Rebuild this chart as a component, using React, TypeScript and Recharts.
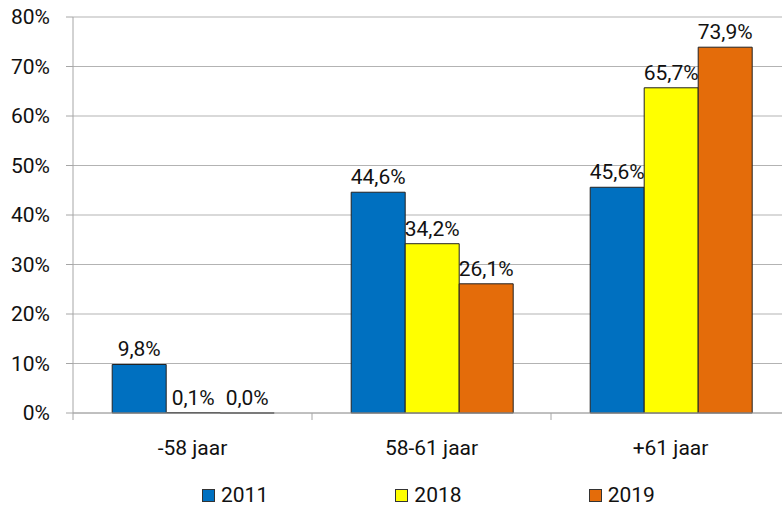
import { BarChart, Bar, XAxis, YAxis, CartesianGrid, Legend, LabelList } from "recharts";

const categories = ["-58 jaar", "58-61 jaar", "+61 jaar"];
const s2011 = [9.8, 44.6, 45.6];
const s2018 = [0.1, 34.2, 65.7];
const s2019 = [0.0, 26.1, 73.9];
const yTicks = [0, 10, 20, 30, 40, 50, 60, 70, 80];

const series = [
    { key: "y2011", name: "2011", color: "#0070C0" },
    { key: "y2018", name: "2018", color: "#FFFF00" },
    { key: "y2019", name: "2019", color: "#E46C0A" },
];

const data = categories.map((c, i) => ({
    cat: c,
    y2011: s2011[i],
    y2018: s2018[i],
    y2019: s2019[i],
}));

const FONT = "Roboto, 'Noto Sans', sans-serif";
const fmt = (v: any) => `${Number(v).toFixed(1).replace(".", ",")}%`;

// category label plus a tick mark on the left edge of each band (and right edge of the last)
function CatTick(props: any) {
    const { x, y, payload, index, width } = props;
    const half = width / categories.length / 2;
    return (
        <g>
            <line x1={x - half} x2={x - half} y1={y - 27} y2={y - 20} stroke="#a6a6a6" />
            {index === categories.length - 1 && (
                <line x1={x + half} x2={x + half} y1={y - 27} y2={y - 20} stroke="#a6a6a6" />
            )}
            <text x={x} y={y} dy="0.71em" textAnchor="middle" fill="#111" fontSize={21} fontFamily={FONT}>
                {payload.value}
            </text>
        </g>
    );
}

function renderLegend() {
    return (
        <div style={{ display: "flex", paddingLeft: 202, fontFamily: FONT, fontSize: 21, color: "#111", lineHeight: "25px" }}>
            {series.map((s) => (
                <div key={s.key} style={{ width: 195, display: "flex", alignItems: "center" }}>
                    <span style={{ width: 11, height: 11, background: s.color, border: "1px solid #333", marginRight: 6 }} />
                    <span>{s.name}</span>
                </div>
            ))}
        </div>
    );
}

export default function App() {
    return (
        <div style={{ position: "absolute", left: 0, top: 0, width: 782, height: 514, overflow: "hidden", background: "#fff" }}>
            <BarChart
                width={790}
                height={514}
                data={data}
                margin={{ top: 17, right: 0, left: 0, bottom: 16 }}
                barGap={0}
                barCategoryGap="16.4%"
            >
                <CartesianGrid vertical={false} stroke="#b3b3b3" />
                <XAxis
                    dataKey="cat"
                    axisLine={{ stroke: "#a6a6a6" }}
                    tickLine={false}
                    tickSize={7}
                    tickMargin={20}
                    tick={<CatTick />}
                    interval={0}
                    height={60}
                />
                <YAxis
                    domain={[0, 80]}
                    ticks={yTicks}
                    tickFormatter={(v: number) => `${v}%`}
                    width={73}
                    axisLine={{ stroke: "#a6a6a6" }}
                    tickLine={{ stroke: "#a6a6a6" }}
                    tickSize={7}
                    tickMargin={16}
                    tick={{ fill: "#111", fontSize: 21, fontFamily: FONT }}
                    interval={0}
                />
                <Legend
                    content={renderLegend}
                    wrapperStyle={{ position: "absolute", top: 483, left: 0, width: 782 }}
                />
                {series.map((s) => (
                    <Bar
                        key={s.key}
                        dataKey={s.key}
                        name={s.name}
                        fill={s.color}
                        stroke="#222"
                        strokeWidth={1}
                        minPointSize={0.01}
                        isAnimationActive={false}
                    >
                        <LabelList dataKey={s.key} position="top" offset={8} formatter={fmt} fill="#111" fontSize={21} fontFamily={FONT} />
                    </Bar>
                ))}
            </BarChart>
        </div>
    );
}
